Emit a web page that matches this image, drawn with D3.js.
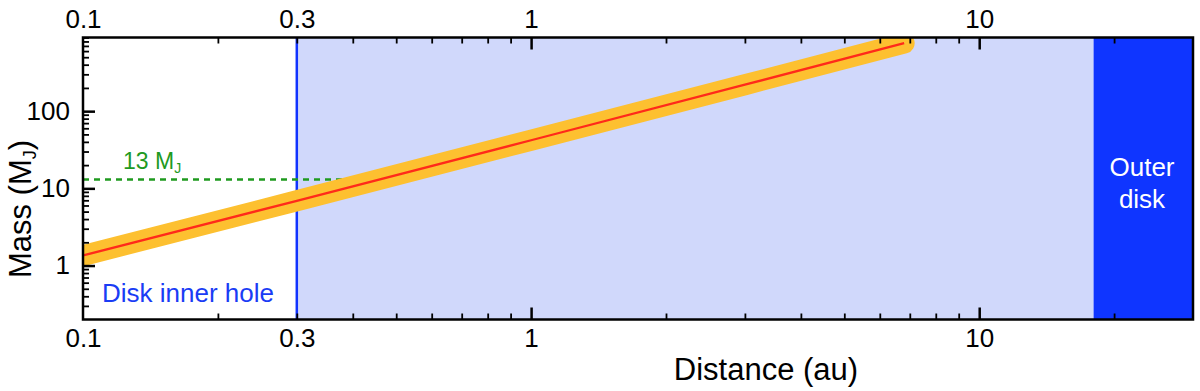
<!DOCTYPE html>
<html>
<head>
<meta charset="utf-8">
<script src="https://cdn.jsdelivr.net/npm/d3@7"></script>
<style>
  html, body { margin: 0; padding: 0; background: #fff; }
  svg { display: block; font-family: "Liberation Sans", Arial, Helvetica, sans-serif; }
</style>
</head>
<body>
<svg id="chart" width="1200" height="391"></svg>
<script>
// ---- data ----
const distances = [0.1, 0.3, 1, 3, 6.8];        // au
const masses    = [1.35, 6.9, 42, 220, 760];    // M_J
const xDomain = [0.1, 30];
const yDomain = [0.2, 900];
const innerHoleEdge = 0.3;
const outerDiskStart = 18;
const deuteriumLimit = 13;
const deuteriumEnd = 0.45;
const xTickLabels = [0.1, 0.3, 1, 10];
const xMajorTicks = [1, 10];
const xMinorTicks = [0.2, 0.3, 0.4, 0.5, 0.6, 0.7, 0.8, 0.9, 2, 3, 4, 5, 6, 7, 8, 9, 20];
const yTickLabels = [1, 10, 100];
const yMajorTicks = [1, 10, 100];
const yMinorTicks = [0.3, 0.4, 0.5, 0.6, 0.7, 0.8, 0.9, 2, 3, 4, 5, 6, 7, 8, 9,
                     20, 30, 40, 50, 60, 70, 80, 90, 200, 300, 400, 500, 600, 700, 800, 900];

// ---- layout ----
const L = 83, R = 1193, T = 37.5, B = 319.5;
const svg = d3.select("#chart");
const x = d3.scaleLog().domain(xDomain).range([L, R]);
const y = d3.scaleLog().domain(yDomain).range([B, T]);

svg.append("defs").append("clipPath").attr("id", "plotclip")
  .append("rect").attr("x", L).attr("y", T).attr("width", R - L).attr("height", B - T);

const plot = svg.append("g").attr("clip-path", "url(#plotclip)");

// regions
plot.append("rect")
  .attr("x", x(innerHoleEdge)).attr("y", T)
  .attr("width", x(outerDiskStart) - x(innerHoleEdge)).attr("height", B - T)
  .attr("fill", "#d0d8fb");
plot.append("rect")
  .attr("x", x(outerDiskStart)).attr("y", T)
  .attr("width", x(xDomain[1]) - x(outerDiskStart)).attr("height", B - T)
  .attr("fill", "#0f35ff");

// inner hole edge
plot.append("line")
  .attr("x1", x(innerHoleEdge)).attr("x2", x(innerHoleEdge))
  .attr("y1", T).attr("y2", B)
  .attr("stroke", "#1133ff").attr("stroke-width", 2.5);

// 13 MJ dashed line
plot.append("line")
  .attr("x1", x(xDomain[0])).attr("x2", x(deuteriumEnd))
  .attr("y1", y(deuteriumLimit)).attr("y2", y(deuteriumLimit))
  .attr("stroke", "#1f9a1f").attr("stroke-width", 2.5)
  .attr("stroke-dasharray", "6,5");

const pts = distances.map((d, i) => [d, masses[i]]);
const line = d3.line().x(d => x(d[0])).y(d => y(d[1]));

plot.append("path").attr("d", line(pts))
  .attr("fill", "none").attr("stroke", "#fdc030")
  .attr("stroke-width", 21).attr("stroke-linecap", "round");
plot.append("path").attr("d", line(pts))
  .attr("fill", "none").attr("stroke", "#ff2a1a")
  .attr("stroke-width", 2.3);

// ---- axes ticks (inward) ----
function styleAxis(g) {
  g.select(".domain").remove();
  g.selectAll("line").attr("stroke", "#000").attr("stroke-width", 1.8);
}
svg.append("g").attr("transform", `translate(0,${B})`)
  .call(d3.axisBottom(x).tickValues(xMinorTicks).tickSize(-6).tickFormat(""))
  .call(styleAxis);
svg.append("g").attr("transform", `translate(0,${B})`)
  .call(d3.axisBottom(x).tickValues(xMajorTicks).tickSize(-12).tickFormat(""))
  .call(styleAxis).selectAll("line").attr("stroke-width", 2.5);
svg.append("g").attr("transform", `translate(0,${T})`)
  .call(d3.axisTop(x).tickValues(xMinorTicks).tickSize(-6).tickFormat(""))
  .call(styleAxis);
svg.append("g").attr("transform", `translate(0,${T})`)
  .call(d3.axisTop(x).tickValues(xMajorTicks).tickSize(-12).tickFormat(""))
  .call(styleAxis).selectAll("line").attr("stroke-width", 2.5);
svg.append("g").attr("transform", `translate(${L},0)`)
  .call(d3.axisLeft(y).tickValues(yMinorTicks).tickSize(-6).tickFormat(""))
  .call(styleAxis);
svg.append("g").attr("transform", `translate(${L},0)`)
  .call(d3.axisLeft(y).tickValues(yMajorTicks).tickSize(-12).tickFormat(""))
  .call(styleAxis).selectAll("line").attr("stroke-width", 2.5);

// tick labels
const fmt = d => String(d);
function styleLabels(g) {
  g.select(".domain").remove();
  g.selectAll("line").remove();
  g.selectAll("text").attr("font-size", 26).attr("fill", "#000")
    .attr("font-family", "'Liberation Sans', Arial, Helvetica, sans-serif");
}
svg.append("g").attr("transform", `translate(0,${B})`)
  .call(d3.axisBottom(x).tickValues(xTickLabels).tickSize(0).tickPadding(9).tickFormat(fmt))
  .call(styleLabels);
svg.append("g").attr("transform", `translate(0,${T})`)
  .call(d3.axisTop(x).tickValues(xTickLabels).tickSize(0).tickPadding(9.5).tickFormat(fmt))
  .call(styleLabels);
svg.append("g").attr("transform", `translate(${L},0)`)
  .call(d3.axisLeft(y).tickValues(yTickLabels).tickSize(0).tickPadding(13).tickFormat(fmt))
  .call(styleLabels);

// frame
svg.append("rect").attr("x", L).attr("y", T).attr("width", R - L).attr("height", B - T)
  .attr("fill", "none").attr("stroke", "#000").attr("stroke-width", 2.5);

// ---- annotations ----
const t13 = svg.append("text").attr("x", 123).attr("y", 169)
  .attr("font-size", 23).attr("fill", "#1f9a1f");
t13.append("tspan").text("13 M");
t13.append("tspan").attr("font-size", 14).attr("dy", 4).text("J");

svg.append("text").attr("x", 102).attr("y", 302)
  .attr("font-size", 26).attr("fill", "#1a3cf5").text("Disk inner hole");

const od = svg.append("text").attr("text-anchor", "middle")
  .attr("font-size", 26).attr("fill", "#fff");
od.append("tspan").attr("x", 1142).attr("y", 176).text("Outer");
od.append("tspan").attr("x", 1142).attr("y", 208).text("disk");

// axis titles
svg.append("text").attr("x", 766).attr("y", 380).attr("text-anchor", "middle")
  .attr("font-size", 31).attr("fill", "#000").text("Distance (au)");

const yt = svg.append("text")
  .attr("transform", "translate(31,209) rotate(-90)")
  .attr("text-anchor", "middle").attr("font-size", 31).attr("fill", "#000");
yt.append("tspan").text("Mass (M");
yt.append("tspan").attr("font-size", 18).attr("dy", 5).text("J");
yt.append("tspan").attr("dy", -5).text(")");
</script>
</body>
</html>
